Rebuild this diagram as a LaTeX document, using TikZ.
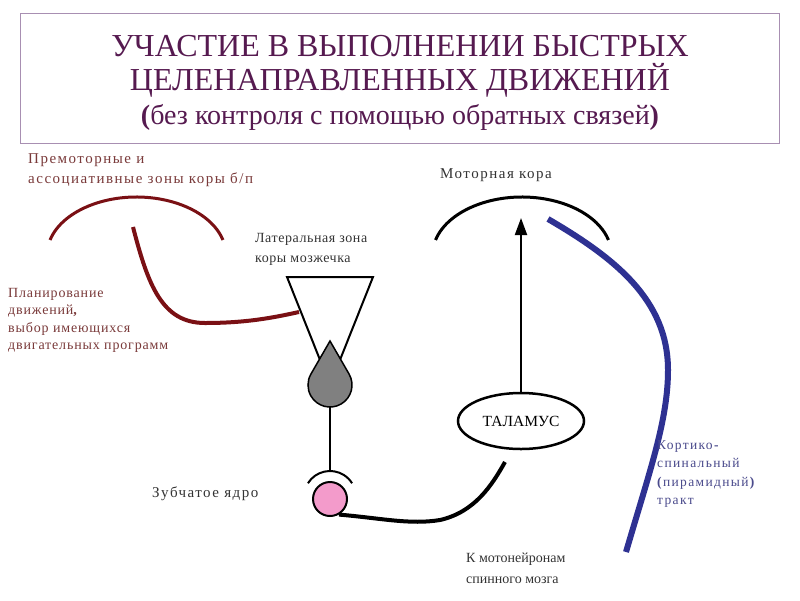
\documentclass[tikz,border=0pt]{standalone}
\usepackage{fontspec}
\setmainfont{Liberation Serif}
\usetikzlibrary{arrows.meta,shapes.geometric,calc}
\definecolor{titlepurple}{HTML}{561A50}
\definecolor{framelilac}{HTML}{A88FB2}
\definecolor{cortexred}{HTML}{7A1014}
\definecolor{labelred}{HTML}{7A3A3A}
\definecolor{tractblue}{HTML}{2E3192}
\definecolor{labelblue}{HTML}{4A4A8C}
\definecolor{dentpink}{HTML}{F39BCB}
\def\cortexcap[#1](#2,#3){\draw[#1] ($(#2,#3)+(195:89.5 and 58)$) arc[start angle=195, end angle=345, x radius=89.5, y radius=58];}
\def\lblfont#1#2#3{\fontsize{#1}{#2}\selectfont\addfontfeature{LetterSpace=#3}}

\begin{document}
\begin{tikzpicture}[x=1pt,y=-1pt,
    lbl/.style={anchor=north west, inner sep=0pt, align=left, font=\lblfont{15}{20}{10}},
    ttl/.style={inner sep=0pt, anchor=base, text=titlepurple, font=\fontsize{32}{36}\selectfont}]
			%%%%% START %%%%%
			\useasboundingbox[fill=white] (0,0) rectangle (800,600);
			
			% title box
			\draw[framelilac, line width=1pt] (20,13) rectangle (779,143);
			\node[ttl] (title1) at (400,56) {УЧАСТИЕ В ВЫПОЛНЕНИИ БЫСТРЫХ};
			\node[ttl] (title2) at (400,90) {ЦЕЛЕНАПРАВЛЕННЫХ ДВИЖЕНИЙ};
			\node[ttl, font=\fontsize{28}{32}\selectfont] (title3) at (400,124) {\textbf{(}без контроля с помощью обратных связей\textbf{)}};
			
			% cortex caps
			\cortexcap[cortexred, line width=3pt](136.5,255);
			\cortexcap[black, line width=3pt](522,255);
			
			\node[lbl, text=labelred] (premotor) at (28,153) {Премоторные и\\ассоциативные зоны коры б/п};
			\node[lbl, text=black!80] (motor) at (440,168) {Моторная кора};
			\node[lbl, text=labelred, font=\lblfont{14}{17.5}{6}] (plan) at (8,288) {Планирование\\движений\textbf{,}\\выбор имеющихся\\двигательных программ};
			\node[lbl, text=black!80, font=\lblfont{14}{20}{4}] (lateral) at (255,233) {Латеральная зона\\коры мозжечка};
			
			% cerebellum cortex and Purkinje droplet
			\draw[line width=2pt, fill=white] (287,277) -- (373,277) -- (330,385) -- cycle;
			\draw[cortexred, line width=4pt] (133,227) .. controls (148,285) and (162,323) .. (205,323) .. controls (245,323) and (272,318) .. (299,312);
			\draw[line width=1.5pt, fill=black!50] (330,341) -- ($(330,385)+(-30:22)$) arc[start angle=-30, end angle=210, radius=22] -- cycle;
			\draw[line width=2pt] (330,407) -- (330,471);
			
			% dentate nucleus
			\draw[line width=2pt] ($(330,497)+(212:26)$) arc[start angle=212, end angle=328, radius=26];
			\node[circle, draw, line width=2pt, fill=dentpink, minimum size=34pt, inner sep=0pt] (dentate) at (330,499) {};
			\node[lbl, text=black!80] (dentlbl) at (152,487) {Зубчатое ядро};
			
			% thalamus
			\node[ellipse, draw, line width=2.5pt, minimum width=126pt, minimum height=56pt, inner sep=0pt, font=\fontsize{15.5}{18}\selectfont] (thal) at (521,421) {ТАЛАМУС};
			\coordinate (motorin) at (521,218);
			\draw[line width=2pt, -{Triangle[length=17pt, width=12pt]}] (thal.north) -- (motorin);
			\draw[line width=4pt] (dentate.-60) .. controls (380,518) and (410,525) .. (440,520) .. controls (475,512) and (492,485) .. (505,462);
			\node[lbl, text=black!80, font=\lblfont{14}{21}{0}] (spinal) at (466,553) {К мотонейронам\\спинного мозга};
			
			% corticospinal tract
			\draw[tractblue, line width=6pt] (548,219) .. controls (615,258) and (668,300) .. (668,370) .. controls (668,420) and (650,470) .. (626,552);
			\node[lbl, text=labelblue, font=\lblfont{13.5}{18.5}{10}] (tract) at (657,440) {Кортико\textbf{-}\\спинальный\\\textbf{(}пирамидный\textbf{)}\\тракт};
			%%%%% END %%%%%
\end{tikzpicture}
\end{document}
